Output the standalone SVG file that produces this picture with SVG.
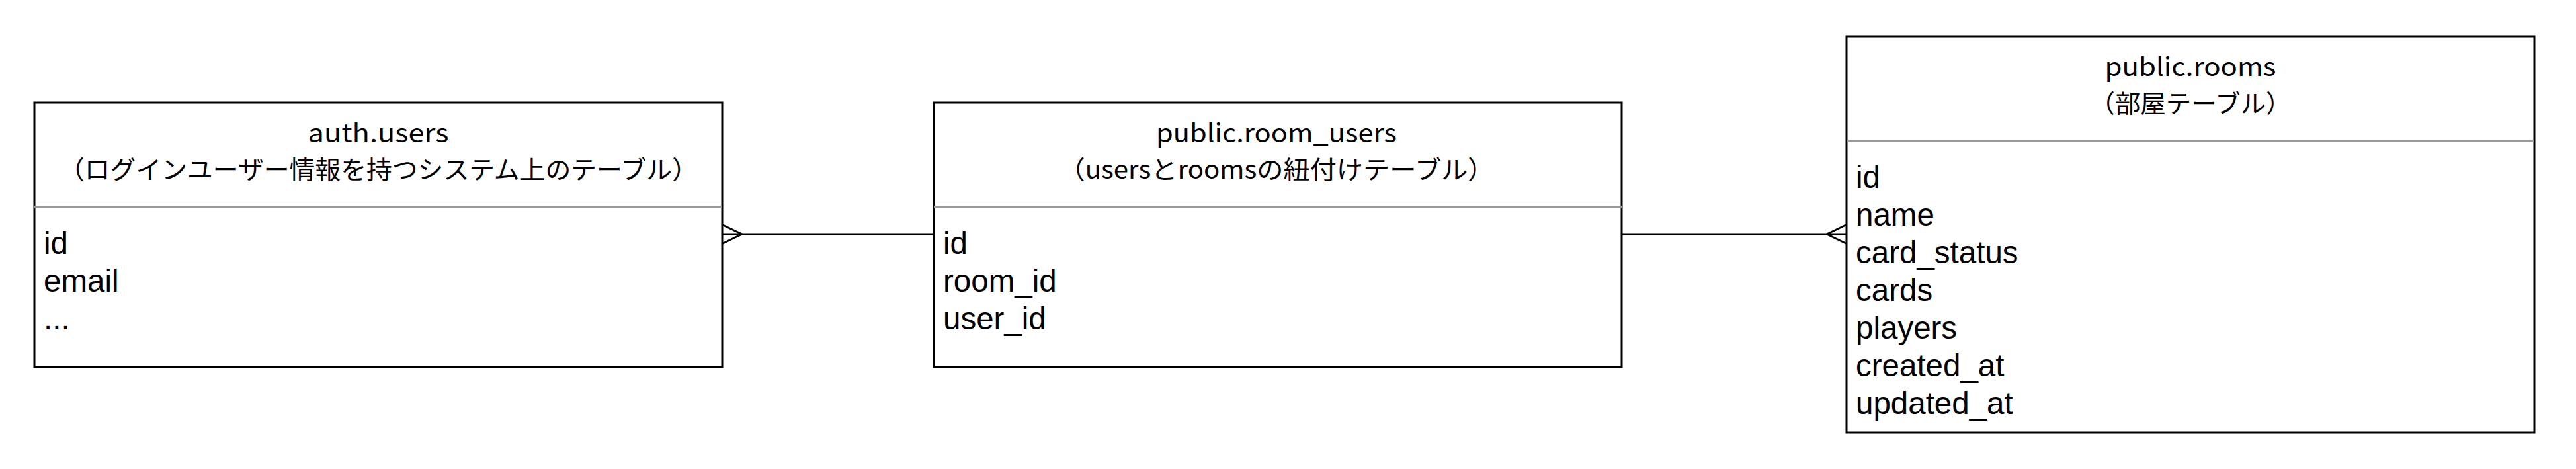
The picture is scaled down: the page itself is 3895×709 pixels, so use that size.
<svg xmlns="http://www.w3.org/2000/svg" width="3895" height="709" viewBox="0 0 3895 709">
  <style>
    .box { fill: #ffffff; stroke: #000000; stroke-width: 3; }
    .sep { stroke: #9a9a9a; stroke-width: 3; }
    .title { font-family: "Noto Sans CJK JP", "Noto Sans", sans-serif; font-size: 38px; fill: #000000; text-anchor: middle; }
    .field { font-family: "Liberation Sans", Arial, sans-serif; font-size: 47.5px; fill: #000000; }
    .conn { fill: none; stroke: #000000; stroke-width: 3; }
  </style>
  <defs>
    <marker id="many" markerUnits="userSpaceOnUse" viewBox="-40 -20 45 40" refX="0" refY="0" markerWidth="45" markerHeight="40" orient="auto" overflow="visible">
      <path d="M-30,0 L0,-14.5 M-30,0 L0,14.5" fill="none" stroke="#000000" stroke-width="3"/>
    </marker>
  </defs>
  <rect width="3895" height="709" fill="#ffffff"/>

  <g id="connectors">
    <path class="conn" d="M1412,354 L1092,354" marker-end="url(#many)"/>
    <path class="conn" d="M2452,354 L2792,354" marker-end="url(#many)"/>
  </g>

  <g id="auth_users">
    <rect class="box" x="52" y="155" width="1040" height="400"/>
    <line class="sep" x1="52" y1="313" x2="1092" y2="313"/>
    <text class="title" x="572" y="214.5" textLength="213" lengthAdjust="spacingAndGlyphs">auth.users</text>
    <text class="title" x="572" y="270" textLength="966" lengthAdjust="spacingAndGlyphs">（ログインユーザー情報を持つシステム上のテーブル）</text>
    <text class="field" x="66" y="383.5">id</text>
    <text class="field" x="66" y="440.5">email</text>
    <text class="field" x="66" y="497.5">...</text>
  </g>

  <g id="room_users">
    <rect class="box" x="1412" y="155" width="1040" height="400"/>
    <line class="sep" x1="1412" y1="313" x2="2452" y2="313"/>
    <text class="title" x="1930" y="214.5" textLength="364" lengthAdjust="spacingAndGlyphs">public.room_users</text>
    <text class="title" x="1930" y="270" textLength="659" lengthAdjust="spacingAndGlyphs">（usersとroomsの紐付けテーブル）</text>
    <text class="field" x="1426" y="383.5">id</text>
    <text class="field" x="1426" y="440.5">room_id</text>
    <text class="field" x="1426" y="497.5">user_id</text>
  </g>

  <g id="rooms">
    <rect class="box" x="2792" y="55" width="1040" height="599"/>
    <line class="sep" x1="2792" y1="213" x2="3832" y2="213"/>
    <text class="title" x="3312" y="114.5" textLength="259" lengthAdjust="spacingAndGlyphs">public.rooms</text>
    <text class="title" x="3312" y="170" textLength="305" lengthAdjust="spacingAndGlyphs">（部屋テーブル）</text>
    <text class="field" x="2806" y="283.5">id</text>
    <text class="field" x="2806" y="340.5">name</text>
    <text class="field" x="2806" y="397.5">card_status</text>
    <text class="field" x="2806" y="454.5">cards</text>
    <text class="field" x="2806" y="511.5">players</text>
    <text class="field" x="2806" y="568.5">created_at</text>
    <text class="field" x="2806" y="625.5">updated_at</text>
  </g>
</svg>
